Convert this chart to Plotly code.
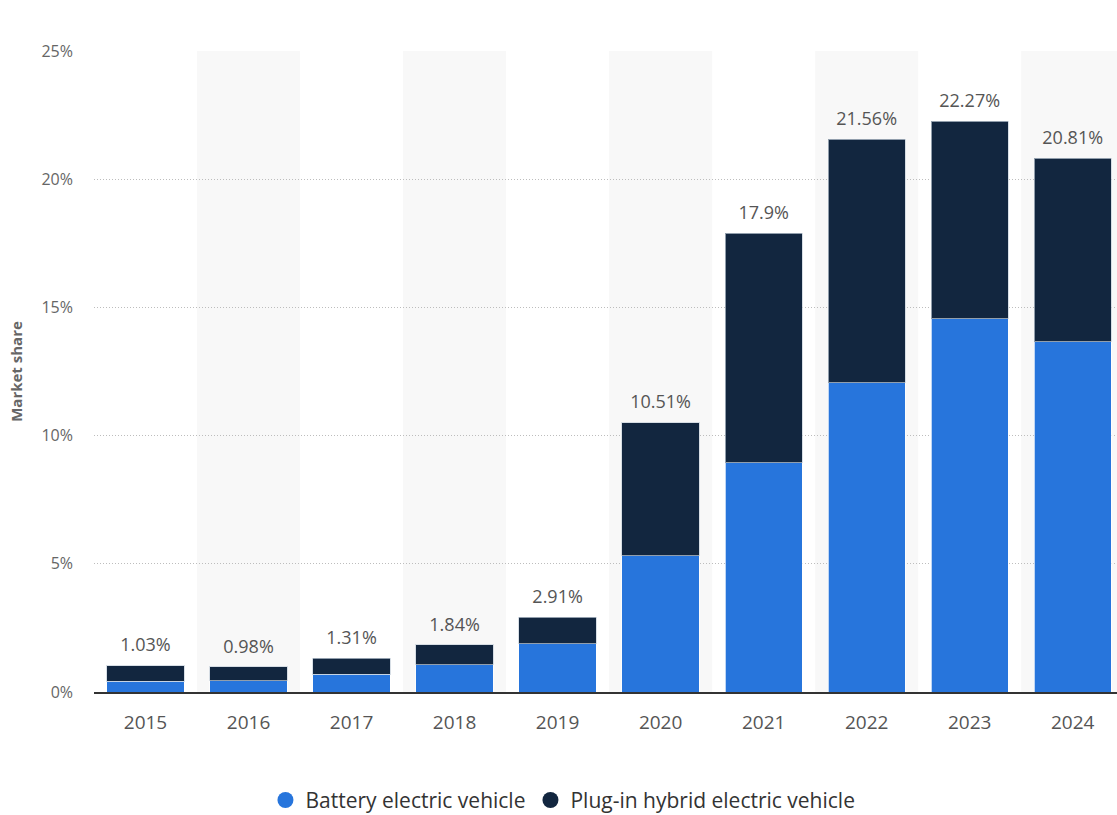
import plotly.graph_objects as go

years = ["2015", "2016", "2017", "2018", "2019", "2020", "2021", "2022", "2023", "2024"]
bev_share = [0.42, 0.44, 0.69, 1.06, 1.88, 5.31, 8.94, 12.06, 14.55, 13.67]
phev_share = [0.61, 0.54, 0.62, 0.78, 1.03, 5.20, 8.96, 9.50, 7.72, 7.14]
y_ticks = [0, 5, 10, 15, 20, 25]
y_tick_text = ["0%", "5%", "10%", "15%", "20%", "25%"]

BEV_COLOR = "#2775dc"
PHEV_COLOR = "#12263f"
FONT = "Open Sans"

totals = [round(b + p, 2) for b, p in zip(bev_share, phev_share)]
x_pos = list(range(len(years)))

fig = go.Figure()

fig.add_trace(go.Bar(
    x=x_pos, y=bev_share, name="Battery electric vehicle",
    marker=dict(color=BEV_COLOR, line=dict(color="rgba(255,255,255,0.7)", width=1)),
    showlegend=False,
))
fig.add_trace(go.Bar(
    x=x_pos, y=phev_share, name="Plug-in hybrid electric vehicle",
    marker=dict(color=PHEV_COLOR, line=dict(color="rgba(200,210,220,0.7)", width=1)),
    showlegend=False,
))

# stack totals above each bar (transparent marker keeps the label clear of the bar)
fig.add_trace(go.Scatter(
    x=x_pos, y=totals, mode="markers+text",
    marker=dict(size=14, opacity=0),
    text=[f"{t:g}%" for t in totals],
    textposition="top center",
    textfont=dict(family=FONT, size=18, color="#555555"),
    showlegend=False, hoverinfo="skip", cliponaxis=False,
))

# round legend markers
for name, col in [("Battery electric vehicle", BEV_COLOR),
                  ("Plug-in hybrid electric vehicle", PHEV_COLOR)]:
    fig.add_trace(go.Scatter(
        x=[None], y=[None], mode="markers", name=name,
        marker=dict(color=col, size=20, symbol="circle"),
    ))

# alternating column shading
shapes = []
for i in x_pos:
    if i % 2 == 1:
        shapes.append(dict(
            type="rect", xref="x", yref="y",
            x0=i - 0.5, x1=i + 0.5, y0=0, y1=25,
            fillcolor="#f8f8f8", line=dict(width=0), layer="below",
        ))

fig.update_layout(
    width=1117, height=815,
    margin=dict(l=94, r=0, t=51, b=123, autoexpand=False),
    paper_bgcolor="white", plot_bgcolor="white",
    barmode="stack", bargap=0.25,
    shapes=shapes,
    font=dict(family=FONT, color="#666666"),
    legend=dict(
        orientation="h", xref="container", yref="container",
        x=0.504, xanchor="center", y=0.018, yanchor="middle",
        font=dict(family=FONT, size=21, color="#333333"),
        itemsizing="trace", traceorder="normal",
    ),
)

fig.update_xaxes(
    range=[-0.5, 9.43],
    tickmode="array", tickvals=x_pos, ticktext=years,
    tickfont=dict(family=FONT, size=19, color="#555555"),
    showline=True, linecolor="#333333", linewidth=2,
    showgrid=False, zeroline=False, ticks="", ticklabelstandoff=12,
)
fig.update_yaxes(
    range=[0, 25],
    tickmode="array", tickvals=y_ticks, ticktext=y_tick_text,
    tickfont=dict(family=FONT, size=16, color="#666666"),
    showgrid=True, gridcolor="#bdbdbd", gridwidth=1, griddash="1px,2px",
    zeroline=False, ticks="", ticklabelstandoff=20,
    title=dict(text="<b>Market share</b>", standoff=15,
               font=dict(family=FONT, size=15, color="#666666")),
)

fig.write_html("out.html")
